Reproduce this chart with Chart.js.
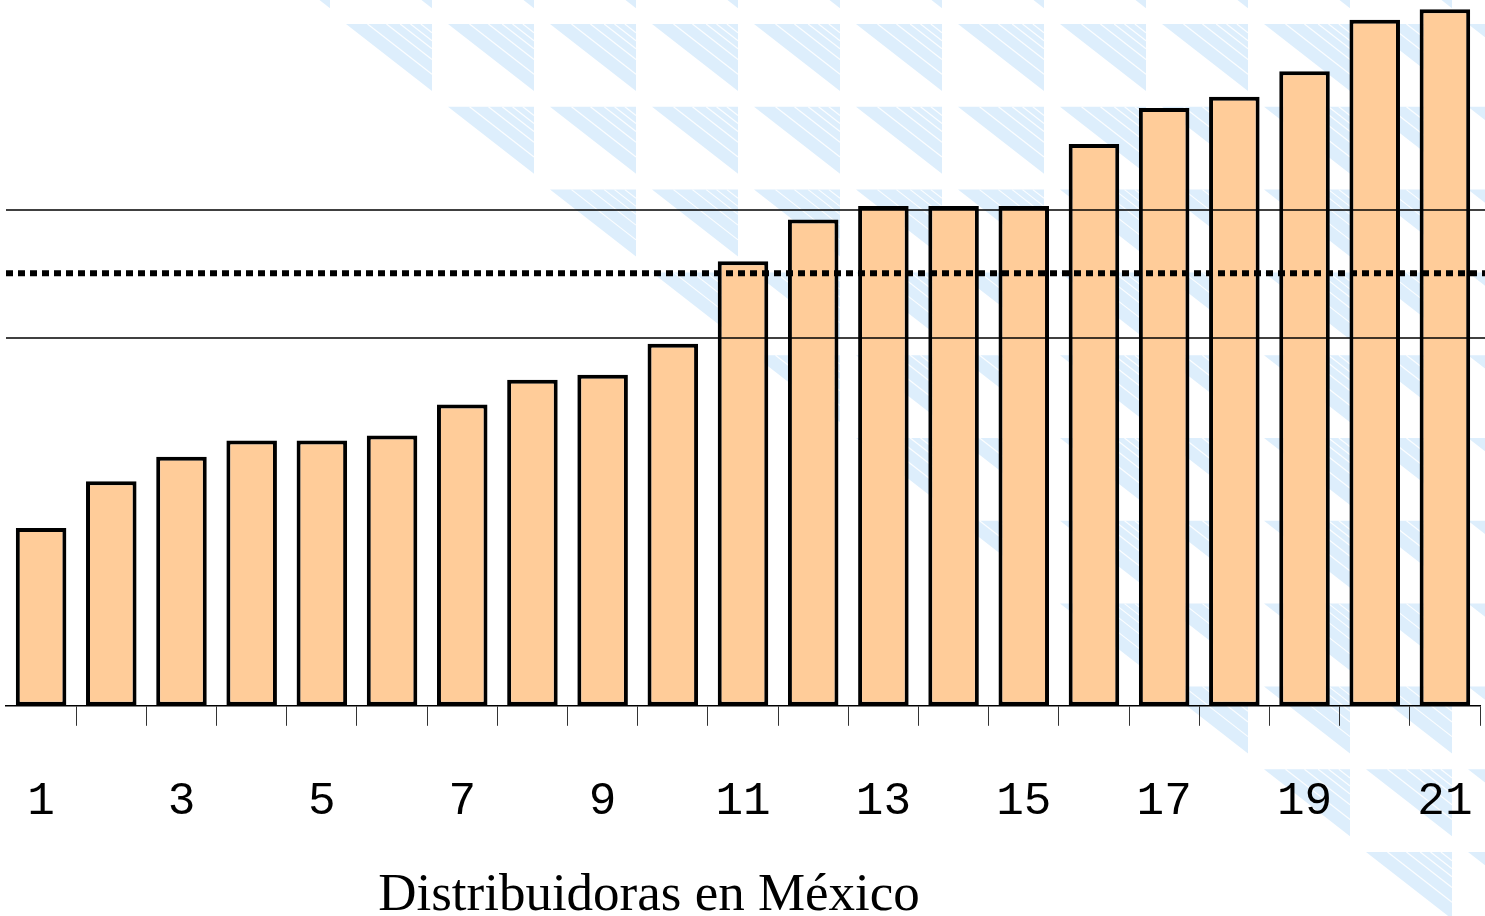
<!DOCTYPE html>
<html>
<head>
<meta charset="utf-8">
<script src="https://cdn.jsdelivr.net/npm/chart.js@4/dist/chart.umd.min.js"></script>
<style>
  html, body { margin: 0; padding: 0; background: #fff; }
  #wrap { position: relative; width: 1485px; height: 916px; }
</style>
</head>
<body>
<div id="wrap"><canvas id="distChart"></canvas></div>
<script>
// Distribuidoras 1..21
const categories = ['1', '2', '3', '4', '5', '6', '7', '8', '9', '10', '11',
    '12', '13', '14', '15', '16', '17', '18', '19', '20', '21']

const values = [25.2, 31.8, 35.3, 37.6, 37.6, 38.3, 42.7, 46.2, 46.9, 51.3, 63.0,
    68.9, 70.8, 70.8, 70.8, 79.6, 84.7, 86.3, 89.9, 97.2, 98.7]

// reference lines: upper, mean (dotted), lower
const upperLine = 70.25
const meanLine = 61.3
const lowerLine = 52.1

const xTitle = 'Distribuidoras en México'

// light blue triangles behind the chart
const backgroundPattern = {
    id: 'backgroundPattern',
    beforeDraw(chart) {
        const ctx = chart.ctx
        const W = 86, H = 67
        ctx.save()
        for (let i = -1; i <= 11; i++) {
            const top = 24 + 82.8 * i
            for (let c = i; c <= 11; c++) {
                const right = 432 + 102 * c
                const left = right - W
                ctx.fillStyle = '#DDEEFC'
                ctx.beginPath()
                ctx.moveTo(left, top)
                ctx.lineTo(right, top)
                ctx.lineTo(right, top + H)
                ctx.closePath()
                ctx.fill()
                ctx.strokeStyle = 'rgba(255,255,255,0.9)'
                ctx.lineWidth = 1.2
                ;[0.25, 0.47, 0.63, 0.75, 0.87].forEach(d => {
                    ctx.beginPath()
                    ctx.moveTo(left + d * W, top)
                    ctx.lineTo(right, top + (1 - d) * H)
                    ctx.stroke()
                })
            }
        }
        ctx.restore()
    }
}

// horizontal reference lines on top of the bars + x title
const refLines = {
    id: 'refLines',
    afterDatasetsDraw(chart) {
        const ctx = chart.ctx
        const y = chart.scales.y
        const x0 = chart.chartArea.left
        const x1 = chart.width
        ctx.save()
        ctx.strokeStyle = '#000'
        ctx.lineWidth = 1.5
        ;[upperLine, lowerLine].forEach(v => {
            const py = y.getPixelForValue(v)
            ctx.beginPath()
            ctx.moveTo(x0, py)
            ctx.lineTo(x1, py)
            ctx.stroke()
        })
        ctx.lineWidth = 6
        ctx.setLineDash([7, 5])
        const pm = y.getPixelForValue(meanLine)
        ctx.beginPath()
        ctx.moveTo(x0, pm)
        ctx.lineTo(x1, pm)
        ctx.stroke()
        ctx.restore()
    },
    afterDraw(chart) {
        const ctx = chart.ctx
        ctx.save()
        ctx.fillStyle = '#000'
        ctx.font = '53px "Liberation Serif", "Times New Roman", serif'
        ctx.textAlign = 'center'
        ctx.textBaseline = 'alphabetic'
        ctx.fillText(xTitle, 649, 910)
        ctx.restore()
    }
}

const chart = new Chart(document.getElementById('distChart'), {
    type: 'bar',
    data: {
        labels: categories,
        datasets: [{
            data: values,
            backgroundColor: '#FFCC99',
            borderColor: '#000000',
            borderWidth: 4,
            borderSkipped: false,
            barPercentage: 0.72,
            categoryPercentage: 1.0
        }]
    },
    options: {
        responsive: true,
        maintainAspectRatio: false,
        animation: false,
        layout: { padding: { top: 0, left: 6, right: 5, bottom: 39 } },
        plugins: {
            legend: { display: false },
            tooltip: { enabled: false }
        },
        scales: {
            x: {
                offset: true,
                // no extra side room for the edge labels
                afterFit: scale => {
                    scale.paddingLeft = 0
                    scale.paddingRight = 0
                },
                grid: {
                    offset: true,
                    drawOnChartArea: false,
                    drawTicks: true,
                    tickLength: 20,
                    color: ctx => ctx.index === 0 ? 'rgba(0,0,0,0)' : '#333',
                    lineWidth: 1
                },
                border: { display: true, color: '#000', width: 1.5 },
                ticks: {
                    autoSkip: false,
                    maxRotation: 0,
                    padding: 48,
                    color: '#000',
                    font: { family: '"Liberation Mono", "DejaVu Sans Mono", monospace', size: 46 },
                    callback: (val, index) => index % 2 === 0 ? categories[index] : ''
                }
            },
            y: {
                display: false,
                min: 0,
                max: 100
            }
        }
    },
    plugins: [backgroundPattern, refLines]
})
</script>
</body>
</html>
